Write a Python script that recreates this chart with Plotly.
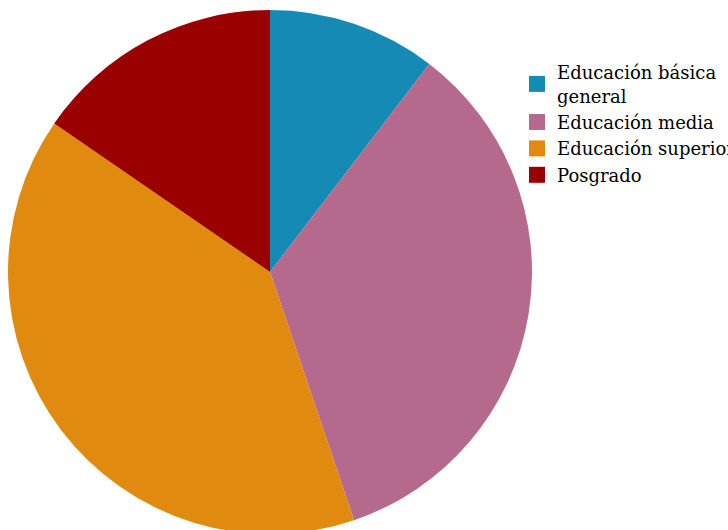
import plotly.graph_objects as go

labels = ["Educación básica<br>general", "Educación media", "Educación superior", "Posgrado"]
values = [10.4, 34.4, 39.8, 15.4]
colors = ["#148AB4", "#B5698D", "#E08A10", "#9B0000"]

W, H = 728, 540
ml, mt, mb = 8, 10, 6
pw = W - ml
ph = H - mt - mb  # 524

fig = go.Figure(go.Pie(
    labels=labels, values=values, sort=False, direction="clockwise", rotation=0,
    marker=dict(colors=colors, line=dict(width=0)),
    textinfo="none", hoverinfo="label+percent", showlegend=False,
    domain=dict(x=[0, ph / pw], y=[0, 1]),
))
# legend entries with larger square swatches
for lab, col in zip(labels, colors):
    fig.add_trace(go.Scatter(x=[None], y=[None], mode="markers", name=lab,
                             marker=dict(symbol="square", size=16, color=col, line=dict(width=0)),
                             hoverinfo="skip"))
fig.update_xaxes(visible=False)
fig.update_yaxes(visible=False)
fig.update_layout(
    width=W, height=H,
    margin=dict(l=ml, r=0, t=mt, b=mb, autoexpand=False),
    paper_bgcolor="white", plot_bgcolor="rgba(0,0,0,0)",
    font=dict(family="DejaVu Serif", size=18, color="#000"),
    legend=dict(x=(517 - ml) / pw, y=1 - (54 - mt) / ph, xanchor="left", yanchor="top",
                bgcolor="rgba(0,0,0,0)", tracegroupgap=0, itemwidth=30, itemsizing="trace"),
)
fig.write_html("out.html", post_script="document.documentElement.style.overflow='hidden';document.body.style.overflow='hidden';")
